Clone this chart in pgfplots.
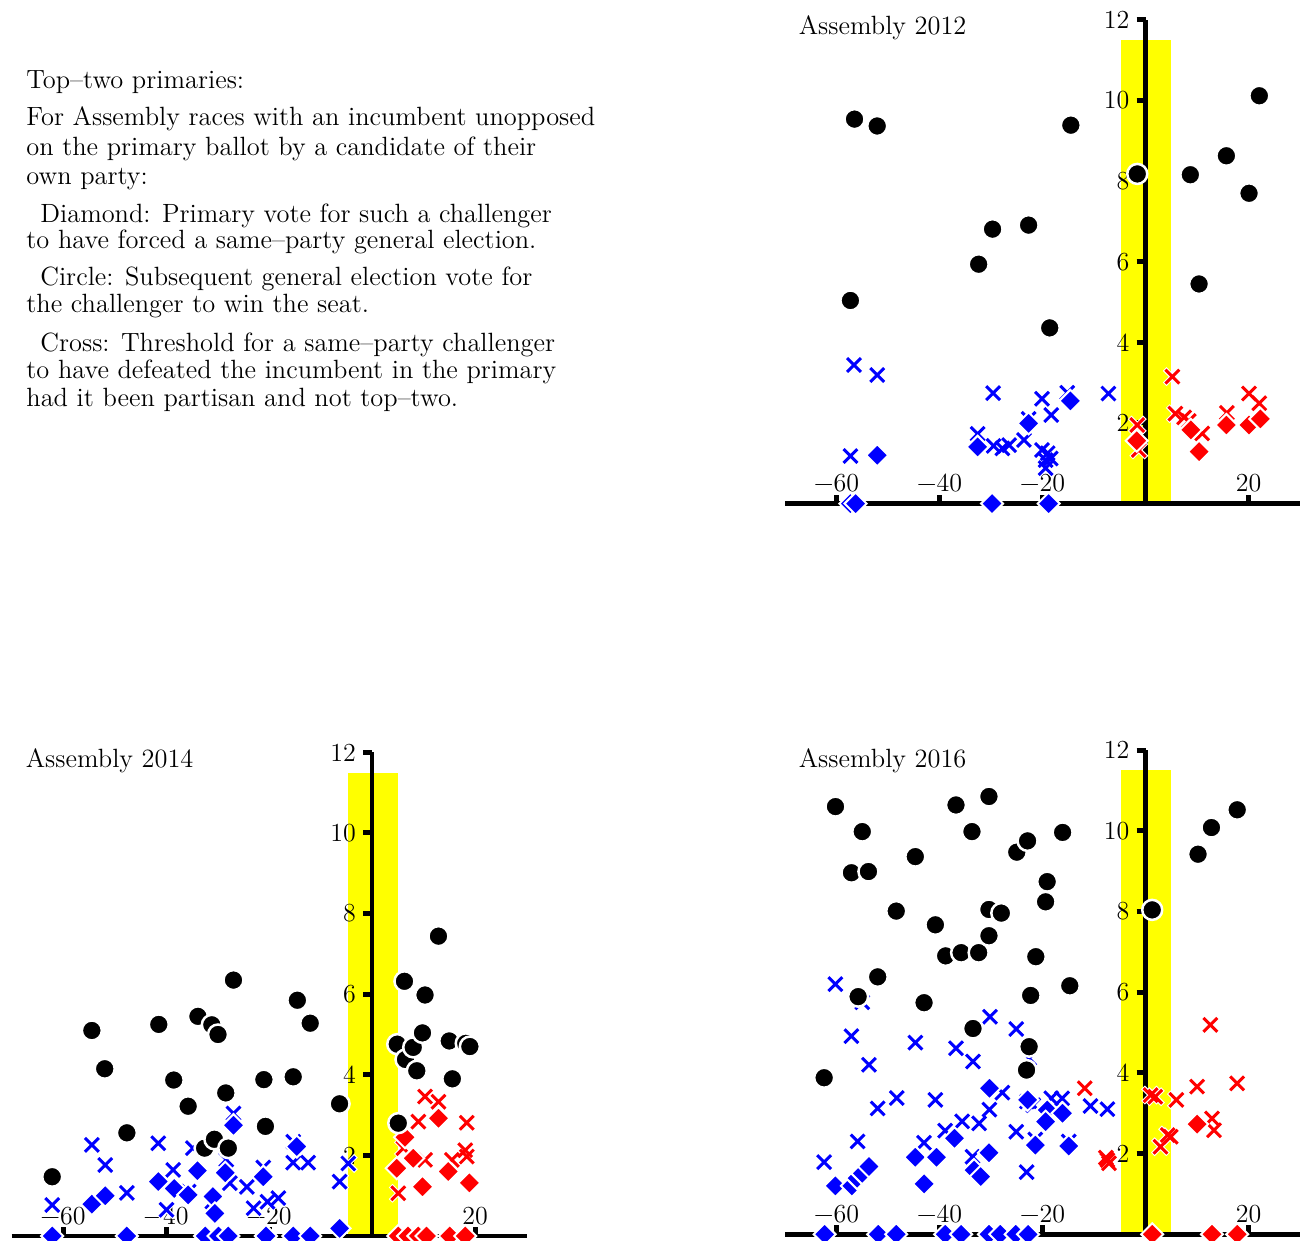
\documentclass[border=0pt]{standalone}
\usepackage{pgfplots}
\usepackage{pgfplotstable}
\pgfplotsset{compat=1.18}
\definecolor{pblue}{RGB}{0,0,255}
\definecolor{pred}{RGB}{255,0,0}
\definecolor{pyel}{RGB}{255,255,0}

% ---------- 2012 ----------
\pgfplotstableread{
x y
-56.5 9.54
-52.1 9.37
-14.5 9.39
22.1 10.12
-1.6 8.18
8.7 8.16
15.7 8.63
20.1 7.70
10.4 5.45
-22.7 6.91
-29.7 6.81
-32.4 5.94
-57.3 5.04
-18.6 4.36
}\circA
\pgfplotstableread{
x y
-56.6 3.44
-52.1 3.19
-57.3 1.18
-29.6 2.74
-7.2 2.73
-20.1 2.60
-15.2 2.75
-18.3 2.20
-22.7 2.10
-32.6 1.73
-29.5 1.43
-27.8 1.37
-26.5 1.45
-23.6 1.58
-20.1 1.33
-19.0 1.25
-19.4 1.08
-18.4 1.12
-19.4 0.88
}\bxA
\pgfplotstableread{
x y
-52.1 1.20
-32.6 1.41
-22.7 1.99
-14.6 2.55
-57.3 0
-56.3 0
-29.8 0
-18.8 0
}\bdA
\pgfplotstableread{
x y
-1.6 1.95
-1.3 1.33
5.2 3.15
5.8 2.23
7.5 2.14
8.4 2.05
11.0 1.74
15.8 2.25
20.1 2.73
22.1 2.49
}\rxA
\pgfplotstableread{
x y
-1.7 1.56
8.8 1.83
10.4 1.29
15.7 1.95
20.1 1.95
22.3 2.10
}\rdA

% ---------- 2014 ----------
\pgfplotstableread{
x y
-62.1 1.47
-54.4 5.10
-51.9 4.15
-47.6 2.56
-41.4 5.25
-38.5 3.87
-35.7 3.22
-33.8 5.45
-31.1 5.24
-29.9 5.00
-32.5 2.18
-30.6 2.40
-27.9 2.18
-28.4 3.55
-26.9 6.35
-21.0 3.88
-20.7 2.72
-15.3 3.95
-14.5 5.85
-12.0 5.28
-6.3 3.28
5.1 2.80
4.9 4.76
6.3 6.32
6.5 4.38
8.0 4.68
8.7 4.10
9.8 5.04
10.3 5.98
12.9 7.44
15.0 4.84
15.6 3.90
18.2 4.78
19.0 4.70
}\circB
\pgfplotstableread{
x y
-62.1 0.77
-54.4 2.26
-51.8 1.76
-47.6 1.07
-41.5 2.30
-38.6 1.64
-39.9 0.65
-34.8 2.18
-35.6 1.10
-31.0 0.85
-28.3 1.89
-27.6 1.31
-26.9 3.04
-24.3 1.22
-23.0 0.69
-21.1 1.70
-20.3 0.85
-18.2 0.94
-15.3 2.34
-15.3 1.82
-12.4 1.82
-6.3 1.35
-4.6 1.80
}\bxB
\pgfplotstableread{
x y
-62.1 0
-54.4 0.79
-51.8 1.00
-47.6 0
-41.5 1.35
-38.4 1.18
-35.7 1.02
-33.9 1.62
-32.4 0
-30.9 0.98
-30.5 0.56
-29.8 0
-28.5 1.57
-27.9 0
-26.9 2.75
-21.1 1.47
-20.6 0
-15.3 0
-14.6 2.22
-12.0 0
-6.3 0.19
}\bdB
\pgfplotstableread{
x y
10.3 3.46
12.9 3.33
9.0 2.84
18.4 2.81
6.1 2.18
10.3 1.89
18.1 2.13
18.4 1.97
15.5 1.89
5.1 1.06
}\rxB
\pgfplotstableread{
x y
12.9 2.92
6.4 2.45
8.0 1.93
4.8 1.68
14.8 1.60
9.8 1.22
18.9 1.32
5.1 0
7.0 0
9.0 0
10.6 0
15.1 0
18.1 0
}\rdB

% ---------- 2016 ----------
\pgfplotstableread{
x y
-60.2 10.60
-55.0 9.98
-57.1 8.96
-53.8 8.99
-52.0 6.38
-55.8 5.89
-62.4 3.88
-48.4 8.01
-44.7 9.36
-40.8 7.67
-43.0 5.74
-36.8 10.64
-33.7 9.98
-30.4 10.85
-38.8 6.90
-35.8 6.98
-32.4 6.98
-30.4 8.05
-28.0 7.96
-30.4 7.40
-33.5 5.10
-25.0 9.47
-22.9 9.75
-19.1 8.74
-19.4 8.24
-21.3 6.88
-22.3 5.92
-22.6 4.65
-23.1 4.07
-16.1 9.96
-14.7 6.16
1.3 8.04
10.2 9.42
12.8 10.08
17.8 10.52
}\circC
\pgfplotstableread{
x y
-60.2 6.20
-57.1 4.91
-53.7 4.20
-52.0 3.12
-48.3 3.38
-55.9 2.30
-62.4 1.79
-44.7 4.75
-40.8 3.33
-43.0 2.27
-36.8 4.61
-33.5 4.28
-38.9 2.57
-35.6 2.80
-32.3 2.75
-30.2 5.39
-30.3 3.09
-27.8 3.51
-33.6 1.92
-25.1 5.09
-25.1 2.54
-23.0 3.29
-23.1 1.54
-16.2 3.37
-18.3 3.37
-10.7 3.18
-7.4 3.10
-55.0 5.75
-22.6 4.36
-21.8 3.20
-21.4 2.35
-14.9 2.30
}\bxC
\pgfplotstableread{
x y
-30.3 3.62
-22.9 3.33
-19.1 3.08
-19.4 2.79
-16.1 3.00
-21.4 2.21
-14.9 2.19
-30.4 2.02
-33.3 1.59
-32.0 1.43
-37.1 2.38
-44.7 1.91
-40.6 1.91
-43.0 1.25
-60.2 1.20
-57.0 1.20
-56.0 1.39
-55.0 1.51
-53.7 1.68
-62.3 0
-51.9 0
-48.4 0
-38.9 0
-35.8 0
-30.4 0
-28.2 0
-25.2 0
-22.8 0
}\bdC
\pgfplotstableread{
x y
-11.8 3.62
12.6 5.19
10.0 3.66
17.8 3.74
1.0 3.45
1.9 3.41
6.0 3.33
12.9 2.87
13.3 2.58
2.9 2.17
4.3 2.46
4.9 2.42
-7.4 1.84
-7.1 1.76
-7.7 1.90
}\rxC
\pgfplotstableread{
x y
10.0 2.73
1.3 0
12.9 0
17.8 0
}\rdC

\pgfplotsset{
  panel/.style={
    scale only axis, width=257.5pt, height=241.8pt,
    xmin=-70, xmax=30, ymin=0, ymax=12,
    axis lines=middle,
    axis line style={-, line width=2.4pt, black},
    clip=false,
    xtick={-60,-40,-20,20},
    xticklabels={−60,−40,−20,20},
    ytick={2,4,6,8,10,12},
    yticklabels={2,4,6,8,10,12},
    xtick align=inside, ytick align=outside,
    major tick length=4.5pt,
    tick style={line width=2.5pt, black},
    xticklabel style={anchor=south, yshift=2pt},
    yticklabel style={anchor=east},
    tick label style={font=\fontsize{13}{15}\selectfont},
    set layers,
    anchor=south west,
  },
  crossfg/.style={only marks, mark=x, mark size=4.9pt, line width=1.5pt, color=#1},
  crossbg/.style={only marks, mark=x, mark size=5.4pt, line width=2.6pt, color=white},
  diam/.style={only marks, mark=square*, mark size=3.9pt,
    mark options={rotate=45, fill=#1, draw=white, line width=1pt}},
  circ/.style={only marks, mark=*, mark size=5.0pt,
    mark options={fill=black, draw=white, line width=1.25pt}},
  band/.style={fill=pyel, draw=none, on layer=axis background},
}

\newcommand{\panelplots}[5]{%
  \addplot[band] coordinates {(-4.75,11.5) (4.95,11.5)} \closedcycle;
  \addplot[crossbg] table {#1};
  \addplot[crossbg] table {#4};
  \addplot[crossfg=pblue] table {#1};
  \addplot[crossfg=pred] table {#4};
  \addplot[diam=pblue] table {#2};
  \addplot[diam=pred] table {#5};
  \addplot[circ] table {#3};
}

\begin{document}
\begin{tikzpicture}
\begin{scope}[font=\fontsize{13.2}{15}\selectfont]
\node[anchor=base west, inner sep=0] at (13pt,576pt) {Top--two primaries:};
\node[anchor=base west, inner sep=0] at (13pt,557.8pt) {For Assembly races with an incumbent unopposed};
\node[anchor=base west, inner sep=0] at (13pt,542.8pt) {on the primary ballot by a candidate of their};
\node[anchor=base west, inner sep=0] at (13pt,528.3pt) {own party:};
\node[anchor=base west, inner sep=0] at (20pt,509.3pt) {Diamond: Primary vote for such a challenger};
\node[anchor=base west, inner sep=0] at (13pt,496.3pt) {to have forced a same--party general election.};
\node[anchor=base west, inner sep=0] at (20pt,477.8pt) {Circle: Subsequent general election vote for};
\node[anchor=base west, inner sep=0] at (13pt,464.3pt) {the challenger to win the seat.};
\node[anchor=base west, inner sep=0] at (20pt,444.5pt) {Cross: Threshold for a same--party challenger};
\node[anchor=base west, inner sep=0] at (13pt,431.3pt) {to have defeated the incumbent in the primary};
\node[anchor=base west, inner sep=0] at (13pt,417.3pt) {had it been partisan and not top--two.};
\node[anchor=base west, inner sep=0] at (399.2pt,603pt) {Assembly 2012};
\node[anchor=base west, inner sep=0] at (12.7pt,236.6pt) {Assembly 2014};
\node[anchor=base west, inner sep=0] at (399.2pt,236.9pt) {Assembly 2016};
\end{scope}

\begin{axis}[panel, at={(392.5pt,368.7pt)}]
\panelplots{\bxA}{\bdA}{\circA}{\rxA}{\rdA}
\end{axis}

\begin{axis}[panel, at={(5.75pt,2.5pt)}]
\panelplots{\bxB}{\bdB}{\circB}{\rxB}{\rdB}
\end{axis}

\begin{axis}[panel, height=242.1pt, at={(392.5pt,3.35pt)}]
\panelplots{\bxC}{\bdC}{\circC}{\rxC}{\rdC}
\end{axis}
\pgfresetboundingbox
\useasboundingbox (0pt,0pt) rectangle (651pt,620.5pt);
\end{tikzpicture}
\end{document}
